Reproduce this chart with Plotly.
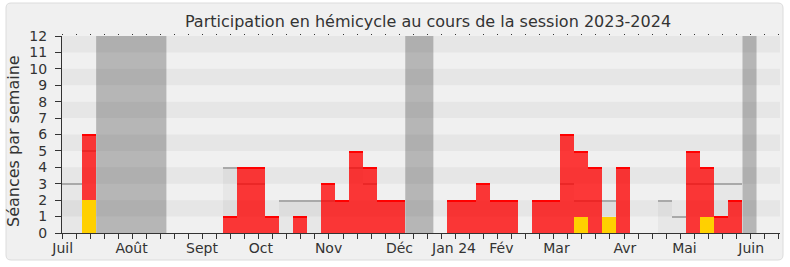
import plotly.graph_objects as go

# ---- data (one entry per week, week 0 = first week of July 2023) ----
weeks = list(range(52))
total = [0, 0, 6, 0, 0, 0, 0, 0, 0, 0, 0, 0,
         1, 4, 4, 1, 0, 1, 0, 3, 2, 5, 4, 2, 2,
         0, 0, 0, 2, 2, 3, 2, 2, 0, 2, 2,
         6, 5, 4, 1, 4, 0, 0, 0, 0, 5, 4, 1, 2, 0, 0, 0]
yellow = [0] * 52
yellow[2] = 2
yellow[37] = 1
yellow[39] = 1
yellow[46] = 1
median = [3, 3, 5, 0, 0, 0, 0, 0, 0, 0, 0, 0,
          4, 3, 3, 1, 2, 2, 2, 2, 2, 4, 3, 2, 2,
          0, 0, 0, 2, 2, 3, 2, 2, 0, 2, 2,
          3, 2, 2, 2, 4, 0, 0, 2, 1, 3, 3, 3, 3, 0, 0, 0]
vac_start = [3, 25, 49]
vac_end = [7, 26, 49]
month_names = ["Juil", "Août", "Sept", "Oct", "Nov", "Déc", "Jan 24",
               "Fév", "Mar", "Avr", "Mai", "Juin"]
month_pos = [0.05, 4.95, 9.96, 14.16, 18.97, 24.02, 27.9, 31.27, 35.19,
             40.06, 44.3, 49.05]
y_ticks = list(range(13))

# ---- style ----
W, H = 790, 267
ML, MR, MT, MB = 62, 10, 36, 34
XMAX = 51.1
YMAX = 12
OFF = -0.57
LW_RED = 0.07
LW_GRAY = 0.06
FONT = "DejaVu Sans"
TXT = "#333333"

red = [t - y for t, y in zip(total, yellow)]

fig = go.Figure()

# median boxes
fig.add_trace(go.Bar(x=weeks, y=median, width=1, offset=OFF,
                     marker=dict(color="rgba(0,0,0,0.035)", line=dict(width=0)),
                     hoverinfo="skip", showlegend=False))
mw = [w for w, m in zip(weeks, median) if m > 0]
mv = [m for m in median if m > 0]
fig.add_trace(go.Bar(x=mw, y=[LW_GRAY] * len(mw), base=[m - LW_GRAY for m in mv],
                     width=1, offset=OFF,
                     marker=dict(color="#a9a9a9", line=dict(width=0)),
                     hoverinfo="skip", showlegend=False))
# yellow part
fig.add_trace(go.Bar(x=weeks, y=yellow, width=1, offset=OFF,
                     marker=dict(color="#ffd000", line=dict(width=0)),
                     hoverinfo="skip", showlegend=False))
# red part
fig.add_trace(go.Bar(x=weeks, y=red, base=yellow, width=1, offset=OFF,
                     marker=dict(color="rgba(255,0,0,0.77)", line=dict(width=0)),
                     hoverinfo="skip", showlegend=False))
rw = [w for w, r in zip(weeks, red) if r > 0]
rt = [t for t, r in zip(total, red) if r > 0]
fig.add_trace(go.Bar(x=rw, y=[LW_RED] * len(rw), base=[t - LW_RED for t in rt],
                     width=1, offset=OFF,
                     marker=dict(color="rgb(255,0,0)", line=dict(width=0)),
                     hoverinfo="skip", showlegend=False))
# invisible trace for the top axis
fig.add_trace(go.Scatter(x=[0], y=[0], xaxis="x2", mode="markers",
                         marker=dict(opacity=0), hoverinfo="skip", showlegend=False))

shapes = []
# outer rounded frame (pixel -> paper)
pw, ph = W - ML - MR, H - MT - MB


def px(x):
    return (x - ML) / pw


def py(y):
    return (H - MB - y) / ph


x0, x1, y0, y1, r = 6, 783, 3, 260, 5
path = (f"M {px(x0 + r)},{py(y0)} L {px(x1 - r)},{py(y0)} "
        f"Q {px(x1)},{py(y0)} {px(x1)},{py(y0 + r)} L {px(x1)},{py(y1 - r)} "
        f"Q {px(x1)},{py(y1)} {px(x1 - r)},{py(y1)} L {px(x0 + r)},{py(y1)} "
        f"Q {px(x0)},{py(y1)} {px(x0)},{py(y1 - r)} L {px(x0)},{py(y0 + r)} "
        f"Q {px(x0)},{py(y0)} {px(x0 + r)},{py(y0)} Z")
shapes.append(dict(type="path", xref="paper", yref="paper", path=path,
                   fillcolor="#f0f0f0", line=dict(color="#dcdcdc", width=1),
                   layer="below"))
# stripes
for k in y_ticks[1:YMAX:2]:
    shapes.append(dict(type="rect", xref="x", yref="y", x0=0, x1=XMAX, y0=k, y1=k + 1,
                       fillcolor="#e6e6e6", line=dict(width=0), layer="below"))
# vacations
for s, e in zip(vac_start, vac_end):
    shapes.append(dict(type="rect", xref="x", yref="y", x0=s + OFF, x1=e + 1 + OFF,
                       y0=0, y1=YMAX, fillcolor="rgba(0,0,0,0.24)",
                       line=dict(width=0), layer="below"))

fig.update_layout(
    width=W, height=H,
    margin=dict(l=ML, r=MR, t=MT, b=MB),
    paper_bgcolor="white", plot_bgcolor="#fafafa",
    barmode="overlay", bargap=0,
    font=dict(family=FONT, color=TXT),
    title=dict(text="Participation en hémicycle au cours de la session 2023-2024",
               x=428 / W, xref="container", xanchor="center",
               y=1 - 21.5 / H, yref="container", yanchor="middle",
               font=dict(size=16, family=FONT, color=TXT)),
    shapes=shapes,
    xaxis=dict(range=[0, XMAX], tickmode="array", tickvals=month_pos,
               ticktext=month_names, ticks="", showgrid=False, zeroline=False,
               showline=True, linecolor="#333333", linewidth=1,
               tickfont=dict(size=14, color=TXT), ticklabelstandoff=2,
               minor=dict(tickmode="linear", tick0=0, dtick=1, ticks="outside",
                          ticklen=5, tickcolor="#333333", tickwidth=1, showgrid=False)),
    xaxis2=dict(range=[0, XMAX], overlaying="x", side="top", tickmode="linear",
                tick0=0, dtick=1, ticks="outside", ticklen=1, tickcolor="#333333",
                showticklabels=False, showgrid=False, zeroline=False, showline=False),
    yaxis=dict(range=[0, YMAX], tickmode="array", tickvals=y_ticks,
               ticks="outside", ticklen=6, tickcolor="#333333", showgrid=False,
               zeroline=False, showline=True, linecolor="#333333", linewidth=1,
               tickfont=dict(size=14, color=TXT), ticklabelstandoff=5),
    annotations=[dict(text="Séances par semaine", textangle=-90, showarrow=False,
                      xref="paper", yref="paper", x=px(13), y=py(141),
                      xanchor="center", yanchor="middle",
                      font=dict(size=16, family=FONT, color=TXT))],
)

fig.write_html("out.html")
